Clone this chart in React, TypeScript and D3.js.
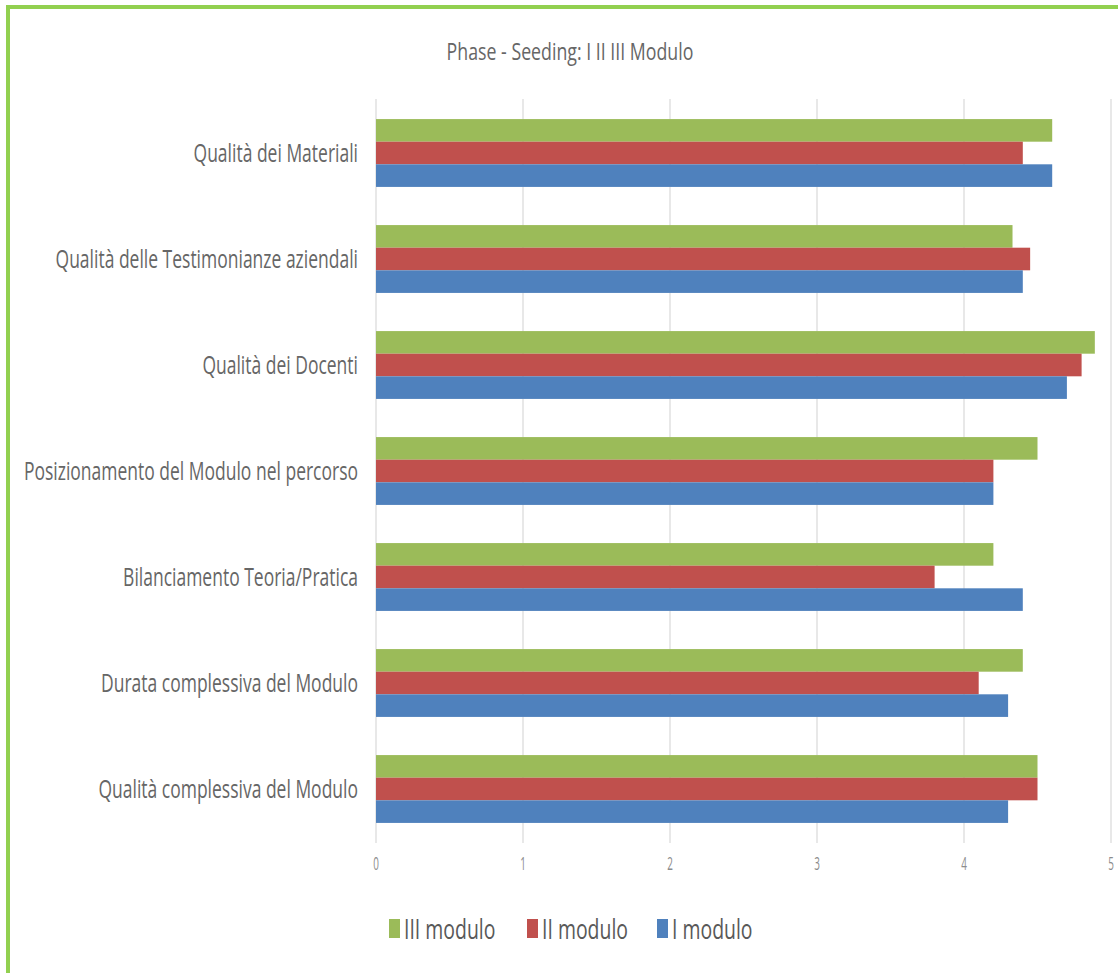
import React from "react";
import * as d3 from "d3";

const categories = [
  "Qualità dei Materiali",
  "Qualità delle Testimonianze aziendali",
  "Qualità dei Docenti",
  "Posizionamento del Modulo nel percorso",
  "Bilanciamento Teoria/Pratica",
  "Durata complessiva del Modulo",
  "Qualità complessiva del Modulo",
];
const seriesNames = ["III modulo", "II modulo", "I modulo"];
const moduloIII = [4.6, 4.33, 4.89, 4.5, 4.2, 4.4, 4.5];
const moduloII = [4.4, 4.45, 4.8, 4.2, 3.8, 4.1, 4.5];
const moduloI = [4.6, 4.4, 4.7, 4.2, 4.4, 4.3, 4.3];
const seriesValues = [moduloIII, moduloII, moduloI];
const seriesColors = ["#9BBB59", "#C0504D", "#4F81BD"];
const xTicks = [0, 1, 2, 3, 4, 5];
const title = "Phase - Seeding: I II III Modulo";

const W = 1118;
const H = 973;
const FONT = "'Open Sans', 'Liberation Sans', sans-serif";

export default function App() {
  const x = d3.scaleLinear().domain([0, 5]).range([376, 1111]);
  const y = d3.scaleBand().domain(categories).range([100, 842]).paddingInner(0.36).paddingOuter(0.18);
  const inner = d3.scaleBand().domain(seriesNames).range([0, y.bandwidth()]);

  const legendX = [389, 527, 657];

  return (
    <svg width={W} height={H} style={{ position: "absolute", left: 0, top: 0, background: "#fff" }}>
      <rect x={0} y={0} width={W} height={H} fill="#fff" />
      <rect x={6} y={5} width={W} height={4} fill="#92D050" />
      <rect x={6} y={5} width={4} height={H} fill="#92D050" />

      <g transform={`translate(570,60) scale(0.74,1)`}>
        <text x={0} y={0} textAnchor="middle" fontFamily={FONT} fontSize={24} fill="#666">
          {title}
        </text>
      </g>

      {xTicks.map((t) => (
        <line key={"g" + t} x1={x(t)} x2={x(t)} y1={99} y2={843} stroke="#D9D9D9" strokeWidth={1.2} />
      ))}

      {categories.map((c, ci) => (
        <g key={c}>
          {seriesNames.map((s, si) => (
            <rect
              key={s}
              x={x(0)}
              y={(y(c) as number) + (inner(s) as number)}
              width={x(seriesValues[si][ci]) - x(0)}
              height={inner.bandwidth()}
              fill={seriesColors[si]}
            />
          ))}
          <g transform={`translate(358,${(y(c) as number) + y.bandwidth() / 2 + 9}) scale(0.70,1)`}>
            <text x={0} y={0} textAnchor="end" fontFamily={FONT} fontSize={25} fill="#666">
              {c}
            </text>
          </g>
        </g>
      ))}

      {xTicks.map((t) => (
        <g key={"t" + t} transform={`translate(${x(t)},870) scale(0.55,1)`}>
          <text x={0} y={0} textAnchor="middle" fontFamily={FONT} fontSize={18} fill="#8c8c8c">
            {t}
          </text>
        </g>
      ))}

      {seriesNames.map((s, i) => (
        <g key={"l" + s}>
          <rect x={legendX[i]} y={919} width={11} height={19} fill={seriesColors[i]} />
          <g transform={`translate(${legendX[i] + 15},939) scale(0.72,1)`}>
            <text x={0} y={0} fontFamily={FONT} fontSize={27} fill="#595959">
              {s}
            </text>
          </g>
        </g>
      ))}
    </svg>
  );
}
